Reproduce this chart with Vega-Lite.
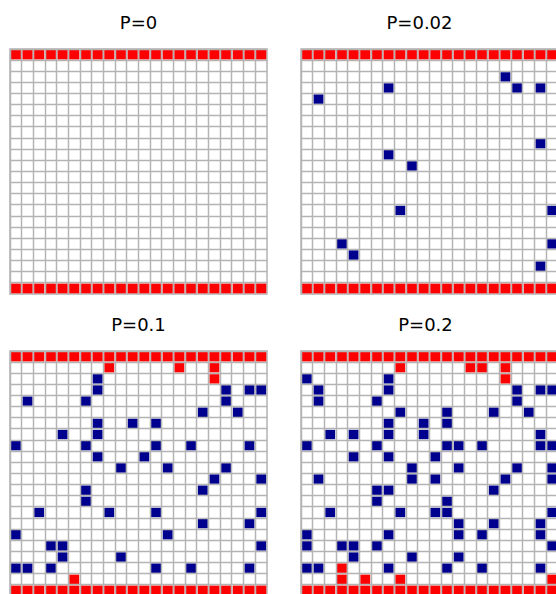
{
  "$schema": "https://vega.github.io/schema/vega-lite/v6.json",
  "background": "white",
  "padding": {"left": 9, "top": 14, "right": 0, "bottom": 0},
  "config": {
    "view": {"stroke": "#b4b4b4", "strokeWidth": 1.5},
    "axis": {"grid": true, "gridColor": "#b4b4b4", "gridWidth": 1.5, "labels": false, "ticks": false, "domain": false, "title": null, "bandPosition": 0},
    "title": {"font": "DejaVu Sans", "fontSize": 18, "fontWeight": "normal", "color": "#000000", "baseline": "alphabetic", "offset": 16}
  },
  "datasets": {
    "edge": [
      {"c":0,"r":0,"k":"R"},{"c":1,"r":0,"k":"R"},{"c":2,"r":0,"k":"R"},{"c":3,"r":0,"k":"R"},{"c":4,"r":0,"k":"R"},{"c":5,"r":0,"k":"R"},{"c":6,"r":0,"k":"R"},{"c":7,"r":0,"k":"R"},{"c":8,"r":0,"k":"R"},{"c":9,"r":0,"k":"R"},{"c":10,"r":0,"k":"R"},{"c":11,"r":0,"k":"R"},{"c":12,"r":0,"k":"R"},{"c":13,"r":0,"k":"R"},{"c":14,"r":0,"k":"R"},{"c":15,"r":0,"k":"R"},{"c":16,"r":0,"k":"R"},{"c":17,"r":0,"k":"R"},{"c":18,"r":0,"k":"R"},{"c":19,"r":0,"k":"R"},{"c":20,"r":0,"k":"R"},{"c":21,"r":0,"k":"R"},
      {"c":0,"r":21,"k":"R"},{"c":1,"r":21,"k":"R"},{"c":2,"r":21,"k":"R"},{"c":3,"r":21,"k":"R"},{"c":4,"r":21,"k":"R"},{"c":5,"r":21,"k":"R"},{"c":6,"r":21,"k":"R"},{"c":7,"r":21,"k":"R"},{"c":8,"r":21,"k":"R"},{"c":9,"r":21,"k":"R"},{"c":10,"r":21,"k":"R"},{"c":11,"r":21,"k":"R"},{"c":12,"r":21,"k":"R"},{"c":13,"r":21,"k":"R"},{"c":14,"r":21,"k":"R"},{"c":15,"r":21,"k":"R"},{"c":16,"r":21,"k":"R"},{"c":17,"r":21,"k":"R"},{"c":18,"r":21,"k":"R"},{"c":19,"r":21,"k":"R"},{"c":20,"r":21,"k":"R"},{"c":21,"r":21,"k":"R"}
    ],
    "cells": [
      {"p":"0.02","c":17,"r":2,"k":"B"},{"p":"0.02","c":18,"r":3,"k":"B"},{"p":"0.02","c":20,"r":3,"k":"B"},{"p":"0.02","c":7,"r":3,"k":"B"},{"p":"0.02","c":1,"r":4,"k":"B"},{"p":"0.02","c":20,"r":8,"k":"B"},{"p":"0.02","c":7,"r":9,"k":"B"},{"p":"0.02","c":9,"r":10,"k":"B"},{"p":"0.02","c":8,"r":14,"k":"B"},{"p":"0.02","c":21,"r":14,"k":"B"},{"p":"0.02","c":21,"r":17,"k":"B"},{"p":"0.02","c":3,"r":17,"k":"B"},{"p":"0.02","c":4,"r":18,"k":"B"},{"p":"0.02","c":20,"r":19,"k":"B"},

      {"p":"0.1","c":8,"r":1,"k":"R"},{"p":"0.1","c":14,"r":1,"k":"R"},{"p":"0.1","c":17,"r":1,"k":"R"},{"p":"0.1","c":17,"r":2,"k":"R"},{"p":"0.1","c":5,"r":20,"k":"R"},
      {"p":"0.1","c":7,"r":2,"k":"B"},
      {"p":"0.1","c":7,"r":3,"k":"B"},{"p":"0.1","c":18,"r":3,"k":"B"},{"p":"0.1","c":20,"r":3,"k":"B"},{"p":"0.1","c":21,"r":3,"k":"B"},
      {"p":"0.1","c":1,"r":4,"k":"B"},{"p":"0.1","c":6,"r":4,"k":"B"},{"p":"0.1","c":18,"r":4,"k":"B"},
      {"p":"0.1","c":16,"r":5,"k":"B"},{"p":"0.1","c":19,"r":5,"k":"B"},
      {"p":"0.1","c":7,"r":6,"k":"B"},{"p":"0.1","c":10,"r":6,"k":"B"},{"p":"0.1","c":12,"r":6,"k":"B"},
      {"p":"0.1","c":4,"r":7,"k":"B"},{"p":"0.1","c":7,"r":7,"k":"B"},
      {"p":"0.1","c":0,"r":8,"k":"B"},{"p":"0.1","c":6,"r":8,"k":"B"},{"p":"0.1","c":12,"r":8,"k":"B"},{"p":"0.1","c":15,"r":8,"k":"B"},{"p":"0.1","c":20,"r":8,"k":"B"},
      {"p":"0.1","c":7,"r":9,"k":"B"},{"p":"0.1","c":11,"r":9,"k":"B"},
      {"p":"0.1","c":9,"r":10,"k":"B"},{"p":"0.1","c":13,"r":10,"k":"B"},{"p":"0.1","c":18,"r":10,"k":"B"},
      {"p":"0.1","c":17,"r":11,"k":"B"},{"p":"0.1","c":21,"r":11,"k":"B"},
      {"p":"0.1","c":6,"r":12,"k":"B"},{"p":"0.1","c":16,"r":12,"k":"B"},
      {"p":"0.1","c":6,"r":13,"k":"B"},
      {"p":"0.1","c":2,"r":14,"k":"B"},{"p":"0.1","c":8,"r":14,"k":"B"},{"p":"0.1","c":12,"r":14,"k":"B"},{"p":"0.1","c":21,"r":14,"k":"B"},
      {"p":"0.1","c":16,"r":15,"k":"B"},{"p":"0.1","c":20,"r":15,"k":"B"},
      {"p":"0.1","c":0,"r":16,"k":"B"},{"p":"0.1","c":13,"r":16,"k":"B"},
      {"p":"0.1","c":3,"r":17,"k":"B"},{"p":"0.1","c":4,"r":17,"k":"B"},{"p":"0.1","c":21,"r":17,"k":"B"},
      {"p":"0.1","c":4,"r":18,"k":"B"},{"p":"0.1","c":9,"r":18,"k":"B"},
      {"p":"0.1","c":0,"r":19,"k":"B"},{"p":"0.1","c":1,"r":19,"k":"B"},{"p":"0.1","c":3,"r":19,"k":"B"},{"p":"0.1","c":12,"r":19,"k":"B"},{"p":"0.1","c":15,"r":19,"k":"B"},{"p":"0.1","c":20,"r":19,"k":"B"},

      {"p":"0.2","c":8,"r":1,"k":"R"},{"p":"0.2","c":14,"r":1,"k":"R"},{"p":"0.2","c":15,"r":1,"k":"R"},{"p":"0.2","c":17,"r":1,"k":"R"},{"p":"0.2","c":17,"r":2,"k":"R"},
      {"p":"0.2","c":3,"r":19,"k":"R"},{"p":"0.2","c":3,"r":20,"k":"R"},{"p":"0.2","c":5,"r":20,"k":"R"},{"p":"0.2","c":8,"r":20,"k":"R"},{"p":"0.2","c":21,"r":20,"k":"R"},
      {"p":"0.2","c":0,"r":2,"k":"B"},{"p":"0.2","c":7,"r":2,"k":"B"},
      {"p":"0.2","c":1,"r":3,"k":"B"},{"p":"0.2","c":7,"r":3,"k":"B"},{"p":"0.2","c":18,"r":3,"k":"B"},{"p":"0.2","c":20,"r":3,"k":"B"},{"p":"0.2","c":21,"r":3,"k":"B"},
      {"p":"0.2","c":1,"r":4,"k":"B"},{"p":"0.2","c":6,"r":4,"k":"B"},{"p":"0.2","c":18,"r":4,"k":"B"},
      {"p":"0.2","c":8,"r":5,"k":"B"},{"p":"0.2","c":12,"r":5,"k":"B"},{"p":"0.2","c":16,"r":5,"k":"B"},{"p":"0.2","c":19,"r":5,"k":"B"},
      {"p":"0.2","c":7,"r":6,"k":"B"},{"p":"0.2","c":10,"r":6,"k":"B"},{"p":"0.2","c":12,"r":6,"k":"B"},
      {"p":"0.2","c":2,"r":7,"k":"B"},{"p":"0.2","c":4,"r":7,"k":"B"},{"p":"0.2","c":7,"r":7,"k":"B"},{"p":"0.2","c":10,"r":7,"k":"B"},{"p":"0.2","c":20,"r":7,"k":"B"},
      {"p":"0.2","c":0,"r":8,"k":"B"},{"p":"0.2","c":6,"r":8,"k":"B"},{"p":"0.2","c":12,"r":8,"k":"B"},{"p":"0.2","c":13,"r":8,"k":"B"},{"p":"0.2","c":15,"r":8,"k":"B"},{"p":"0.2","c":20,"r":8,"k":"B"},{"p":"0.2","c":21,"r":8,"k":"B"},
      {"p":"0.2","c":4,"r":9,"k":"B"},{"p":"0.2","c":7,"r":9,"k":"B"},{"p":"0.2","c":11,"r":9,"k":"B"},
      {"p":"0.2","c":9,"r":10,"k":"B"},{"p":"0.2","c":13,"r":10,"k":"B"},{"p":"0.2","c":18,"r":10,"k":"B"},{"p":"0.2","c":21,"r":10,"k":"B"},
      {"p":"0.2","c":1,"r":11,"k":"B"},{"p":"0.2","c":9,"r":11,"k":"B"},{"p":"0.2","c":11,"r":11,"k":"B"},{"p":"0.2","c":17,"r":11,"k":"B"},{"p":"0.2","c":21,"r":11,"k":"B"},
      {"p":"0.2","c":6,"r":12,"k":"B"},{"p":"0.2","c":7,"r":12,"k":"B"},{"p":"0.2","c":16,"r":12,"k":"B"},
      {"p":"0.2","c":6,"r":13,"k":"B"},{"p":"0.2","c":12,"r":13,"k":"B"},
      {"p":"0.2","c":2,"r":14,"k":"B"},{"p":"0.2","c":8,"r":14,"k":"B"},{"p":"0.2","c":11,"r":14,"k":"B"},{"p":"0.2","c":12,"r":14,"k":"B"},{"p":"0.2","c":21,"r":14,"k":"B"},
      {"p":"0.2","c":13,"r":15,"k":"B"},{"p":"0.2","c":16,"r":15,"k":"B"},{"p":"0.2","c":20,"r":15,"k":"B"},
      {"p":"0.2","c":0,"r":16,"k":"B"},{"p":"0.2","c":7,"r":16,"k":"B"},{"p":"0.2","c":13,"r":16,"k":"B"},{"p":"0.2","c":15,"r":16,"k":"B"},{"p":"0.2","c":20,"r":16,"k":"B"},
      {"p":"0.2","c":0,"r":17,"k":"B"},{"p":"0.2","c":3,"r":17,"k":"B"},{"p":"0.2","c":4,"r":17,"k":"B"},{"p":"0.2","c":6,"r":17,"k":"B"},{"p":"0.2","c":21,"r":17,"k":"B"},
      {"p":"0.2","c":4,"r":18,"k":"B"},{"p":"0.2","c":9,"r":18,"k":"B"},{"p":"0.2","c":13,"r":18,"k":"B"},
      {"p":"0.2","c":0,"r":19,"k":"B"},{"p":"0.2","c":1,"r":19,"k":"B"},{"p":"0.2","c":7,"r":19,"k":"B"},{"p":"0.2","c":12,"r":19,"k":"B"},{"p":"0.2","c":15,"r":19,"k":"B"},{"p":"0.2","c":20,"r":19,"k":"B"}
    ]
  },
  "vconcat": [
    {
      "hconcat": [
        {
          "title": {"text": "P=0"},
          "width": 257, "height": 245,
          "data": {"name": "edge"},
          "mark": {"type": "rect", "width": {"band": 0.88}, "height": {"band": 0.88}},
          "encoding": {
            "x": {"field": "c", "type": "ordinal", "scale": {"type": "band", "domain": [0,1,2,3,4,5,6,7,8,9,10,11,12,13,14,15,16,17,18,19,20,21], "paddingInner": 0, "paddingOuter": 0}},
            "y": {"field": "r", "type": "ordinal", "scale": {"type": "band", "domain": [0,1,2,3,4,5,6,7,8,9,10,11,12,13,14,15,16,17,18,19,20,21], "paddingInner": 0, "paddingOuter": 0}},
            "color": {"field": "k", "type": "nominal", "scale": {"domain": ["R","B"], "range": ["#ff0000","#00008f"]}, "legend": null}
          }
        },
        {
          "title": {"text": "P=0.02", "dx": -10},
          "width": 257, "height": 245,
          "encoding": {
            "x": {"field": "c", "type": "ordinal", "scale": {"type": "band", "domain": [0,1,2,3,4,5,6,7,8,9,10,11,12,13,14,15,16,17,18,19,20,21], "paddingInner": 0, "paddingOuter": 0}},
            "y": {"field": "r", "type": "ordinal", "scale": {"type": "band", "domain": [0,1,2,3,4,5,6,7,8,9,10,11,12,13,14,15,16,17,18,19,20,21], "paddingInner": 0, "paddingOuter": 0}},
            "color": {"field": "k", "type": "nominal", "scale": {"domain": ["R","B"], "range": ["#ff0000","#00008f"]}, "legend": null}
          },
          "layer": [
            {"data": {"name": "edge"}, "mark": {"type": "rect", "width": {"band": 0.88}, "height": {"band": 0.88}}},
            {"data": {"name": "cells"}, "transform": [{"filter": "datum.p == '0.02'"}], "mark": {"type": "rect", "width": {"band": 0.85}, "height": {"band": 0.85}}}
          ]
        }
      ],
      "spacing": 32
    },
    {
      "hconcat": [
        {
          "title": {"text": "P=0.1"},
          "width": 257, "height": 245,
          "encoding": {
            "x": {"field": "c", "type": "ordinal", "scale": {"type": "band", "domain": [0,1,2,3,4,5,6,7,8,9,10,11,12,13,14,15,16,17,18,19,20,21], "paddingInner": 0, "paddingOuter": 0}},
            "y": {"field": "r", "type": "ordinal", "scale": {"type": "band", "domain": [0,1,2,3,4,5,6,7,8,9,10,11,12,13,14,15,16,17,18,19,20,21], "paddingInner": 0, "paddingOuter": 0}},
            "color": {"field": "k", "type": "nominal", "scale": {"domain": ["R","B"], "range": ["#ff0000","#00008f"]}, "legend": null}
          },
          "layer": [
            {"data": {"name": "edge"}, "mark": {"type": "rect", "width": {"band": 0.88}, "height": {"band": 0.88}}},
            {"data": {"name": "cells"}, "transform": [{"filter": "datum.p == '0.1'"}], "mark": {"type": "rect", "width": {"band": 0.85}, "height": {"band": 0.85}}}
          ]
        },
        {
          "title": {"text": "P=0.2", "dx": -4},
          "width": 257, "height": 245,
          "encoding": {
            "x": {"field": "c", "type": "ordinal", "scale": {"type": "band", "domain": [0,1,2,3,4,5,6,7,8,9,10,11,12,13,14,15,16,17,18,19,20,21], "paddingInner": 0, "paddingOuter": 0}},
            "y": {"field": "r", "type": "ordinal", "scale": {"type": "band", "domain": [0,1,2,3,4,5,6,7,8,9,10,11,12,13,14,15,16,17,18,19,20,21], "paddingInner": 0, "paddingOuter": 0}},
            "color": {"field": "k", "type": "nominal", "scale": {"domain": ["R","B"], "range": ["#ff0000","#00008f"]}, "legend": null}
          },
          "layer": [
            {"data": {"name": "edge"}, "mark": {"type": "rect", "width": {"band": 0.88}, "height": {"band": 0.88}}},
            {"data": {"name": "cells"}, "transform": [{"filter": "datum.p == '0.2'"}], "mark": {"type": "rect", "width": {"band": 0.85}, "height": {"band": 0.85}}}
          ]
        }
      ],
      "spacing": 32
    }
  ],
  "spacing": 21
}
